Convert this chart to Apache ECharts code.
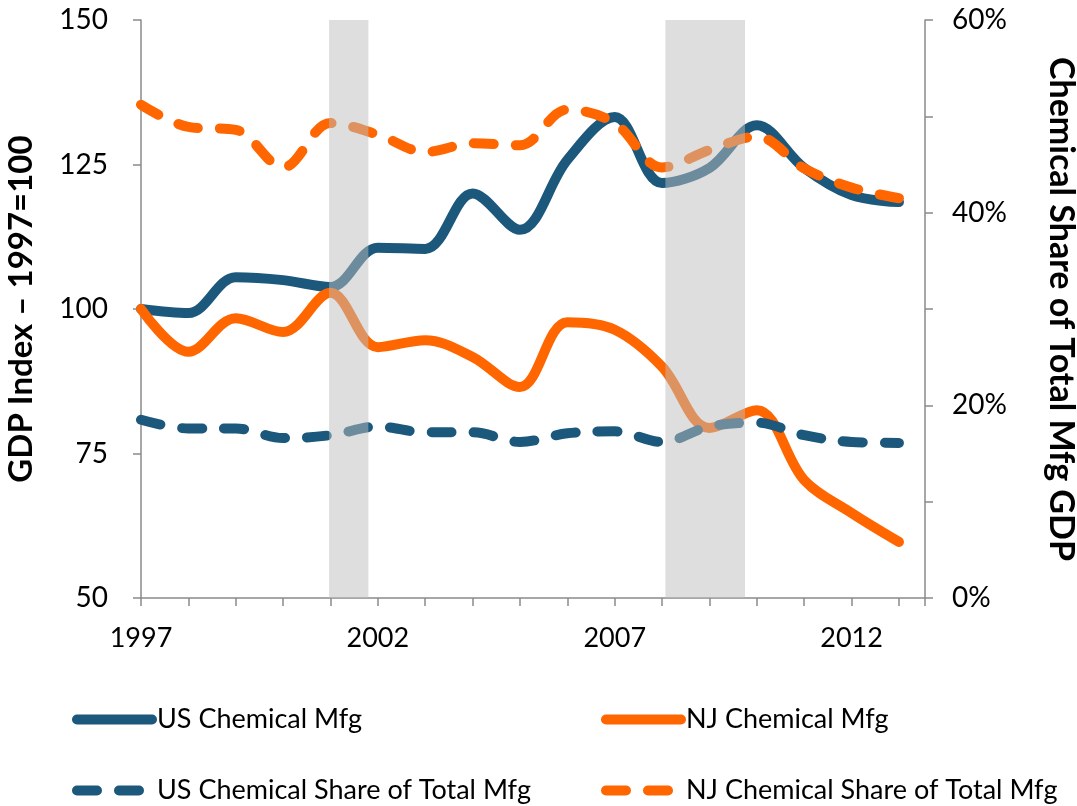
<!DOCTYPE html>
<html>
<head>
<meta charset="utf-8">
<script src="https://cdn.jsdelivr.net/npm/echarts@6/dist/echarts.min.js"></script>
<style>
html,body{margin:0;padding:0;background:#fff;}
#chart{width:1077px;height:806px;}
</style>
</head>
<body>
<div id="chart"></div>
<script>
// ---- Data ----
const years = [1997,1998,1999,2000,2001,2002,2003,2004,2005,2006,2007,2008,2009,2010,2011,2012,2013];
const usChemMfg = [100,99.3,105.5,105.0,103.8,110.6,110.4,120.0,113.7,125.8,133.2,121.8,124.4,131.8,124.4,119.7,118.5];
const njChemMfg = [100,92.6,98.4,96.0,102.8,93.4,94.6,91.7,86.5,97.7,96.4,90.0,79.4,82.5,70.4,64.7,59.7];
const usChemShare = [18.5,17.6,17.6,16.6,16.9,17.8,17.2,17.2,16.2,17.1,17.3,16.2,17.8,18.2,16.9,16.2,16.1];
const njChemShare = [51.2,48.9,48.6,44.7,49.3,48.1,46.3,47.2,47.0,50.7,49.3,44.7,46.5,47.9,44.6,42.6,41.5];
const recessions = [[2000.97, 2001.80], [2008.07, 2009.75]];
const xLabelYears = [1997, 2002, 2007, 2012];
const leftTicks = [50, 75, 100, 125, 150];
const rightLabelTicks = [0, 20, 40, 60];
const seriesNames = ['US Chemical Mfg','NJ Chemical Mfg','US Chemical Share of Total Mfg','NJ Chemical Share of Total Mfg'];

const BLUE = '#1B587C';
const ORANGE = '#FF6600';
const FONT = 'Lato';
const AXIS_COLOR = '#8a8a8a';
const DASH = [20, 22];
const pair = (arr) => years.map((y, i) => [y, arr[i]]);

const chart = echarts.init(document.getElementById('chart'), null, {renderer: 'canvas'});

const lineCommon = {type: 'line', smooth: 0.35, showSymbol: false, symbol: 'none', animation: false};

function legendAt(name, color, dashed, left, top) {
  return {
    left: left, top: top, orient: 'horizontal', itemWidth: 75, itemHeight: 12,
    selectedMode: false,
    textStyle: {fontFamily: FONT, fontSize: 27, color: '#000'},
    itemStyle: {opacity: 0},
    data: [{name: name,
      itemStyle: {opacity: 0},
      lineStyle: {width: 10, cap: 'round', type: dashed ? DASH : 'solid', color: color, opacity: 1}}]
  };
}

chart.setOption({
  animation: false,
  backgroundColor: '#fff',
  textStyle: {fontFamily: FONT},
  grid: {left: 141, right: 152, top: 20, bottom: 208, containLabel: false, outerBoundsMode: 'none'},
  xAxis: {
    type: 'value', min: 1997, max: 2013.55, interval: 1,
    axisLine: {show: true, lineStyle: {color: AXIS_COLOR, width: 1.5}},
    axisTick: {show: true, inside: false, length: 8, lineStyle: {color: AXIS_COLOR, width: 1.5}},
    splitLine: {show: false},
    axisLabel: {
      margin: 27, color: '#000', fontSize: 27, fontFamily: FONT,
      formatter: v => xLabelYears.indexOf(Math.round(v * 1000) / 1000) >= 0 ? String(v) : ''
    }
  },
  yAxis: [{
    type: 'value', min: leftTicks[0], max: leftTicks[leftTicks.length - 1], interval: 25, position: 'left',
    name: 'GDP Index \u2013 1997=100', nameLocation: 'middle', nameGap: 103,
    nameTextStyle: {fontFamily: FONT, fontSize: 33, fontWeight: 'bold', color: '#000'},
    axisLine: {show: true, lineStyle: {color: AXIS_COLOR, width: 1.5}},
    axisTick: {show: true, length: 8, lineStyle: {color: AXIS_COLOR, width: 1.5}},
    splitLine: {show: false},
    axisLabel: {margin: 33, color: '#000', fontSize: 28, fontFamily: FONT}
  }, {
    type: 'value', min: 0, max: 60, interval: 10, position: 'right',
    name: 'Chemical Share of Total Mfg GDP', nameLocation: 'middle', nameGap: 119, nameRotate: -90,
    nameTextStyle: {fontFamily: FONT, fontSize: 34, fontWeight: 'bold', color: '#000'},
    axisLine: {show: true, lineStyle: {color: AXIS_COLOR, width: 1.5}},
    axisTick: {show: true, length: 8, lineStyle: {color: AXIS_COLOR, width: 1.5}},
    splitLine: {show: false},
    axisLabel: {
      margin: 27, color: '#000', fontSize: 28, fontFamily: FONT,
      formatter: v => rightLabelTicks.indexOf(v) >= 0 ? v + '%' : ''
    }
  }],
  legend: [
    legendAt(seriesNames[0], BLUE, false, 67, 701),
    legendAt(seriesNames[2], BLUE, true, 67, 772),
    legendAt(seriesNames[1], ORANGE, false, 596, 701),
    legendAt(seriesNames[3], ORANGE, true, 596, 772)
  ],
  series: [
    Object.assign({}, lineCommon, {name: seriesNames[0], yAxisIndex: 0, z: 2, data: pair(usChemMfg),
      color: BLUE, lineStyle: {color: BLUE, width: 10, cap: 'round', join: 'round'}}),
    Object.assign({}, lineCommon, {name: seriesNames[1], yAxisIndex: 0, z: 3, data: pair(njChemMfg),
      color: ORANGE, lineStyle: {color: ORANGE, width: 10, cap: 'round', join: 'round'}}),
    Object.assign({}, lineCommon, {name: seriesNames[2], yAxisIndex: 1, z: 4, data: pair(usChemShare),
      color: BLUE, lineStyle: {color: BLUE, width: 10, cap: 'round', join: 'round', type: DASH}}),
    Object.assign({}, lineCommon, {name: seriesNames[3], yAxisIndex: 1, z: 5, data: pair(njChemShare),
      color: ORANGE, lineStyle: {color: ORANGE, width: 10, cap: 'round', join: 'round', type: DASH}}),
    {
      type: 'custom', name: 'recession', yAxisIndex: 0, z: 10, silent: true,
      encode: {x: [0, 1]},
      data: recessions,
      renderItem: function (params, api) {
        const p0 = api.coord([api.value(0), leftTicks[leftTicks.length - 1]]);
        const p1 = api.coord([api.value(1), leftTicks[0]]);
        return {type: 'rect', shape: {x: p0[0], y: p0[1], width: p1[0] - p0[0], height: p1[1] - p0[1]},
          style: {fill: '#bdbdbd', opacity: 0.5}};
      }
    }
  ]
});
</script>
</body>
</html>
